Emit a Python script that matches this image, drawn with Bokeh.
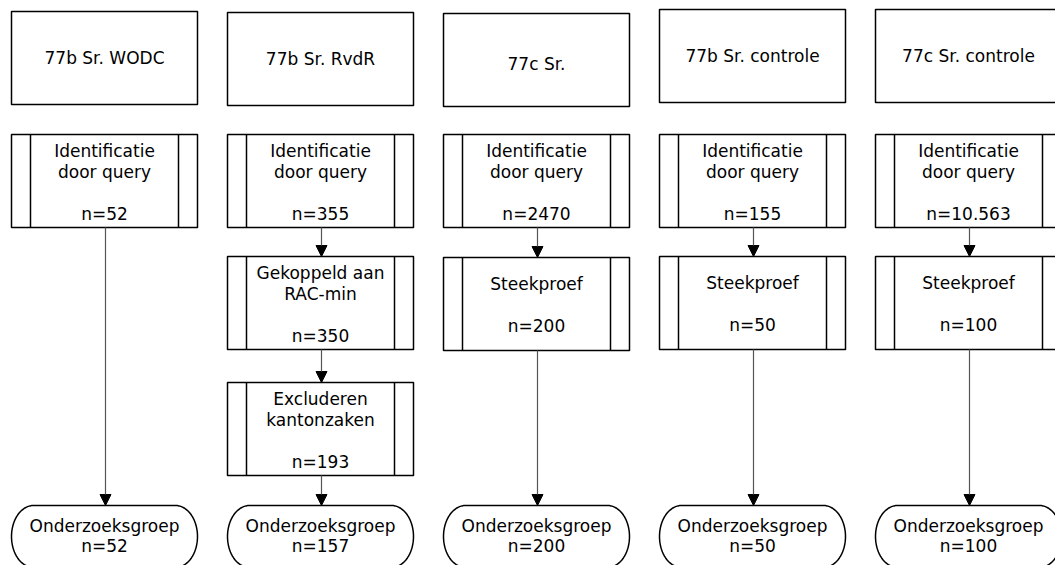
import numpy as np
from bokeh.plotting import figure
from bokeh.models import Range1d, ColumnDataSource, Arrow, NormalHead
from bokeh.core.properties import value
from bokeh.embed import file_html
from bokeh.resources import INLINE

# ---- data ----
titles = ["77b Sr. WODC", "77b Sr. RvdR", "77c Sr.", "77b Sr. controle", "77c Sr. controle"]
query_n = ["52", "355", "2470", "155", "10.563"]
extra_labels = [[], ["Gekoppeld aan\nRAC-min", "Excluderen\nkantonzaken"], ["Steekproef"], ["Steekproef"], ["Steekproef"]]
extra_n = [[], ["350", "193"], ["200"], ["50"], ["100"]]
final_n = ["52", "157", "200", "50", "100"]

# ---- layout (pixel-like coordinates, y downward) ----
W, H = 1055, 565
x_first, x_pitch, box_w = 104, 216, 186
inner = 19
title_top = [11, 12, 13, 9, 9]
title_h = 93
slot_tops = [134, 256, 382]
slot_h = 93
term_top, term_h, term_rx = 505, 62, 22
line_h = 21
FONT = "DejaVu Sans"
FS = "17px"

p = figure(width=W, height=H, x_range=Range1d(0, W), y_range=Range1d(H, 0),
           output_backend="svg", toolbar_location=None, min_border=0)
p.axis.visible = False
p.grid.visible = False
p.outline_line_color = None
p.background_fill_color = "white"

tx, ty, tt = [], [], []

def add_lines(lines, xc, yc, lh):
    n = len(lines)
    for k, s in enumerate(lines):
        if s:
            tx.append(xc)
            ty.append(yc + (k - (n - 1) / 2) * lh)
            tt.append(s)

qx0, qx1, qy0, qy1 = [], [], [], []   # quads (all boxes)
sx0, sy0, sx1, sy1 = [], [], [], []   # inner vertical lines
ax0, ay0, ax1, ay1 = [], [], [], []   # arrows
term_xs, term_ys = [], []

for i, title in enumerate(titles):
    xc = x_first + i * x_pitch
    l, r = xc - box_w / 2, xc + box_w / 2
    # title box
    qx0.append(l); qx1.append(r); qy0.append(title_top[i]); qy1.append(title_top[i] + title_h)
    add_lines([title], xc, title_top[i] + title_h / 2 + (4 if i == 2 else 0), line_h)
    # process boxes
    labels = ["Identificatie\ndoor query"] + extra_labels[i]
    ns = [query_n[i]] + extra_n[i]
    prev_bottom = None
    for j, (lab, nv) in enumerate(zip(labels, ns)):
        top = slot_tops[j] + (1 if (i == 2 and j == 1) else 0)
        bot = top + slot_h
        qx0.append(l); qx1.append(r); qy0.append(top); qy1.append(bot)
        for xx in (l + inner, r - inner):
            sx0.append(xx); sx1.append(xx); sy0.append(top); sy1.append(bot)
        lines = lab.split("\n") + ["", "n=" + nv]
        add_lines(lines, xc, (top + bot) / 2 + 1, line_h)
        if prev_bottom is not None:
            ax0.append(xc + 1); ax1.append(xc + 1); ay0.append(prev_bottom); ay1.append(top)
        prev_bottom = bot
    ax0.append(xc + 1); ax1.append(xc + 1); ay0.append(prev_bottom); ay1.append(term_top)
    # terminal (stadium)
    yc = term_top + term_h / 2
    ry = term_h / 2
    t1 = np.linspace(-np.pi / 2, np.pi / 2, 40)
    t2 = np.linspace(np.pi / 2, 3 * np.pi / 2, 40)
    xs = list((r - term_rx) + term_rx * np.cos(t1)) + list((l + term_rx) + term_rx * np.cos(t2))
    ys = list(yc + ry * np.sin(t1)) + list(yc + ry * np.sin(t2))
    term_xs.append(xs); term_ys.append(ys)
    add_lines(["Onderzoeksgroep", "n=" + final_n[i]], xc, yc - 1, 20)

p.quad(left=qx0, right=qx1, top=qy0, bottom=qy1, fill_color="white",
       line_color="black", line_width=1.5)
p.segment(x0=sx0, y0=sy0, x1=sx1, y1=sy1, line_color="black", line_width=1.5)
p.patches(xs=term_xs, ys=term_ys, fill_color="white", line_color="black", line_width=1.5)

asrc = ColumnDataSource(dict(x0=ax0, y0=ay0, x1=ax1, y1=ay1))
p.add_layout(Arrow(source=asrc, x_start="x0", y_start="y0", x_end="x1", y_end="y1",
                   line_color="#555555", line_width=1.2,
                   end=NormalHead(size=11, fill_color="black", line_color="black", line_width=1)))

p.text(x=tx, y=ty, text=tt, text_align="center", text_baseline="middle",
       text_font=value(FONT), text_font_size=FS, text_color="#000000")

open("out.html", "w").write(file_html(p, INLINE))
